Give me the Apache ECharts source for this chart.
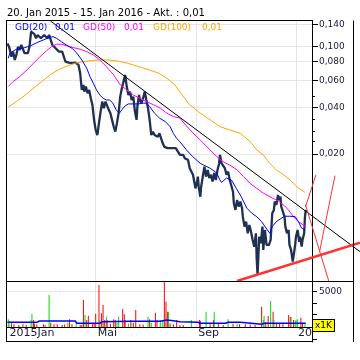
<!DOCTYPE html>
<html><head><meta charset="utf-8">
<script src="https://cdn.jsdelivr.net/npm/echarts@6/dist/echarts.min.js"></script>
<style>html,body{margin:0;padding:0;background:#fff}#c{width:360px;height:360px}</style>
</head><body><div id="c"></div>
<script>
// x values: day number counted from 2015-01-01 (2016-01-01 = 365)
const titleText = '20. Jan 2015 - 15. Jan 2016 - Akt. : 0,01';
const legendItems = ['GD(20)', 'GD(50)', 'GD(100)'];
const legendValues = ['0,01', '0,01', '0,01'];

const priceDays = [
  12,14,17,19,21,23,25,27,29,31,
  33,35,37,39,41,43,45,47,49,51,
  53,55,57,59,61,63,65,67,69,71,
  73,75,77,79,81,83,85,87,91,95,
  99,101,103,105,106,108,110,112,114,116,
  118,120,122,124,126,128,130,132,134,136,
  138,140,142,144,146,148,150,152,154,156,
  158,160,162,164,166,168,170,171,173,174,
  176,178,180,182,184,186,188,190,192,194,
  196,198,200,202,204,206,208,210,212,214,
  218,223,225,227,229,231,233,235,237,239,
  241,242,244,245,246,248,249,251,253,255,
  257,259,261,263,265,267,269,271,272,274,
  276,278,280,282,284,286,288,289,291,293,
  295,297,299,300,302,304,306,308,310,312,
  314,316,317,318,319,320,322,324,325,327,
  329,330,332,334,335,336,338,339,341,343,
  344,346,347,349,351,352,354,356,357,359,
  361,362,364,365,367,369,370,372,373,375,376,377];
const priceVals = [
  0.105,0.100,0.0861,0.0928,0.0819,0.0883,0.100,0.0952,0.1026,0.100,
  0.0906,0.0928,0.0906,0.100,0.1253,0.1223,0.1208,0.1135,0.1192,0.1192,
  0.1135,0.1151,0.1192,0.1174,0.1135,0.1192,0.1106,0.1026,0.1042,0.0977,
  0.100,0.0928,0.0906,0.0928,0.0861,0.0799,0.0780,0.0787,0.0780,0.0787,
  0.0760,0.0671,0.0522,0.0563,0.0509,0.0549,0.0497,0.0522,0.0461,0.0417,
  0.0333,0.0286,0.0265,0.0317,0.0377,0.0438,0.0397,0.0438,0.0428,0.0387,
  0.0368,0.0333,0.0301,0.0279,0.0317,0.0368,0.0472,0.0536,0.0522,0.0654,
  0.0549,0.0484,0.0509,0.0449,0.0472,0.0377,0.0333,0.0407,0.0484,0.0449,
  0.0428,0.0461,0.0509,0.0449,0.0397,0.0333,0.0265,0.0279,0.0265,0.0272,
  0.0258,0.0272,0.0265,0.0234,0.0222,0.0228,0.0218,0.0222,0.0218,0.0222,
  0.0218,0.0197,0.0192,0.0197,0.0187,0.0192,0.0182,0.0161,0.0157,0.0146,
  0.0128,0.0119,0.0132,0.0142,0.0122,0.0105,0.0122,0.0142,0.0165,0.0142,
  0.0157,0.0139,0.0146,0.0132,0.0150,0.0135,0.0157,0.0173,0.0197,0.0173,
  0.0177,0.0161,0.0146,0.0153,0.0135,0.0132,0.0113,0.00952,0.00861,0.0100,
  0.00905,0.00975,0.00883,0.00778,0.00670,0.00722,0.00606,0.00687,0.00621,0.00548,
  0.00496,0.00606,0.00406,0.00324,0.00427,0.00576,0.00522,0.00670,0.00472,0.00637,
  0.00509,0.00496,0.00509,0.00548,0.00670,0.00819,0.00861,0.00975,0.00928,0.0108,
  0.0100,0.0105,0.00905,0.00840,0.00778,0.00670,0.00606,0.00637,0.00509,0.00472,
  0.00396,0.00427,0.00509,0.00576,0.00637,0.00534,0.00576,0.00496,0.00548,0.00606,0.00778,0.00861];

const ma20Days = [13,15,23,31,40,48,56,64,68,72,78,84,91,97,103,109,113,117,121,125,129,133,137,141,145,149,152,156,160,166,172,178,182,186,192,198,205,211,215,219,223,231,239,248,252,260,268,272,274,280,286,292,298,305,311,317,323,330,333,336,341,347,351,357,364,368,372,376];
const ma20Vals = [0.0840,0.0906,0.0962,0.0977,0.1011,0.1062,0.1106,0.1151,0.1161,0.1135,0.1078,0.1026,0.0977,0.0906,0.0819,0.0723,0.0638,0.0578,0.0522,0.0484,0.0461,0.0449,0.0449,0.0428,0.0387,0.0368,0.0387,0.0411,0.0423,0.0423,0.0423,0.0428,0.0428,0.0407,0.0368,0.0342,0.0325,0.0301,0.0272,0.0252,0.0240,0.0212,0.0191,0.0173,0.0169,0.0161,0.0150,0.0135,0.0130,0.0139,0.0135,0.0119,0.0105,0.00883,0.00819,0.00778,0.00722,0.00637,0.00606,0.00670,0.00722,0.00759,0.00783,0.00783,0.00778,0.00722,0.00654,0.00637];

const ma50Days = [13,19,27,36,44,52,60,66,72,78,85,93,101,109,117,125,133,142,150,158,166,174,182,191,199,207,215,223,231,239,248,254,260,268,276,284,293,301,309,317,325,333,339,345,354,362,368,374,377];
const ma50Vals = [0.0549,0.0592,0.0638,0.0705,0.0780,0.0861,0.0942,0.100,0.1037,0.1037,0.1011,0.0985,0.0962,0.0928,0.0883,0.0819,0.0741,0.0654,0.0563,0.0522,0.0484,0.0461,0.0438,0.0417,0.0397,0.0368,0.0350,0.0342,0.0304,0.0273,0.0246,0.0228,0.0212,0.0192,0.0177,0.0169,0.0157,0.0142,0.0128,0.0119,0.0111,0.0105,0.0101,0.00975,0.00883,0.00778,0.00722,0.00687,0.00670];

const ma100Days = [13,23,34,44,54,64,74,85,95,105,115,125,135,146,156,166,176,186,197,207,217,223,235,248,260,272,284,297,309,317,325,333,341,350,358,366,376];
const ma100Vals = [0.0403,0.0438,0.0484,0.0536,0.0592,0.0654,0.0705,0.0749,0.0780,0.0799,0.0811,0.0819,0.0819,0.0807,0.0787,0.0760,0.0730,0.0705,0.0671,0.0623,0.0563,0.0506,0.0417,0.0368,0.0333,0.0301,0.0286,0.0272,0.0240,0.0212,0.0197,0.0173,0.0157,0.0146,0.0135,0.0122,0.0112];

// trend lines (start / end points)
const resistDays = [64.7, 443.3];   const resistVals = [0.147, 0.0046];
const supportDays = [292.8, 443.3]; const supportVals = [0.00296, 0.00526];
const fan1Days = [376.6, 389.4];    const fan1Vals = [0.0090, 0.0146];
const fan2Days = [376.6, 405.1];    const fan2Vals = [0.0093, 0.00296];
const fan3Days = [393.7, 412.7];    const fan3Vals = [0.00456, 0.0144];

// volume
const volDays = [
  13,14,17,20,26,31,35,41,42,44,45,48,56,58,63,65,69,73,79,82,
  86,88,91,96,101,103,105,107,109,111,116,118,120,124,125,127,129,131,133,134,
  138,142,144,146,148,153,155,156,160,163,166,169,174,178,184,186,188,193,195,199,
  202,204,206,208,209,211,215,219,223,227,237,247,248,255,260,264,265,270,276,282,
  288,293,296,303,309,315,323,325,326,328,331,334,337,338,341,345,349,356,358,359,
  362,364,365,367,371,373,376];
const volVals = [
  1090,890,520,380,300,380,300,990,1880,990,500,380,400,300,4530,610,380,380,300,350,
  610,1090,380,470,300,300,3820,1700,990,1600,400,500,1880,5950,990,1930,3110,990,1460,990,
  450,1090,990,600,1460,2550,1800,990,500,990,600,2410,400,350,1460,1090,600,2030,990,990,
  990,6400,3580,2170,2170,500,400,990,300,300,990,990,850,2170,380,990,2170,500,300,1090,
  450,500,380,380,350,300,2870,990,1560,700,1560,3680,2170,990,600,500,380,1700,1460,1460,
  990,900,990,1090,1320,500,380];
const volUp = [
  1,1,0,0,0,0,0,1,1,0,0,0,0,0,1,0,0,0,0,0,
  1,0,0,1,0,0,0,1,0,0,0,0,0,0,1,0,0,0,1,0,
  0,0,0,1,1,0,0,0,1,0,0,0,0,0,1,0,1,0,0,1,
  1,0,0,0,1,0,0,0,0,0,1,0,0,1,0,0,1,0,0,1,
  0,1,0,0,0,0,0,1,1,0,0,1,0,1,0,0,0,0,0,1,
  0,1,1,1,0,0,1];
const volMaDays = [12,48,51,95,97,125,128,162,199,207,215,223,245,248,279,282,297,299,323,326,377];
const volMaVals = [665,665,850,850,524,524,750,800,800,990,900,750,665,524,524,665,665,400,400,524,524];

// axes
const xRange = [11.5, 384.6];
const xRangeWide = [11.5, 443.3];
const monthTickDays = [120, 243, 365];
const xLabelDays = [12, 120, 243, 365];
const xLabels = ['2015Jan', 'Mai', 'Sep', '20'];
const priceRange = [0.00296, 0.147];
const priceTicks = [0.14, 0.10, 0.08, 0.06, 0.04, 0.02];
const priceMinorTicks = [0.0477, 0.0336, 0.0279, 0.0240];
const volRange = [0, 6514];
const volAxisRange = [-2124, 6514];
const volTicks = [-1742, 0, 1798, 3356, 5000];
const volLabelTicks = [5000];

const L = Math.log10;
const pairs = (xs, ys) => xs.map((x, i) => [x, L(ys[i])]);
const FONT = 'DejaVu Sans';
const TXT = '#1a1a3a';
const GRIDC = '#e6e6e6';

const chart = echarts.init(document.getElementById('c'), null, {renderer: 'canvas'});

function lineSeries(name, xs, ys, color, width, extra) {
  return Object.assign({
    name, type: 'line', xAxisIndex: 0, yAxisIndex: 0, data: pairs(xs, ys),
    symbol: 'none', silent: true,
    lineStyle: {color, width}, itemStyle: {color}
  }, extra || {});
}

const legendX = [[15, 55], [83, 124], [153, 202]];
const legendColors = ['#0000ff', '#ff00ff', '#ffa500'];
const graphics = [];
graphics.push({type: 'text', x: 7, y: 13.5, style: {text: titleText, fill: '#000', fontFamily: FONT, fontSize: 10, verticalAlign: 'middle'}});
legendItems.forEach((t, i) => {
  graphics.push({type: 'text', x: legendX[i][0], y: 27.5, z: 100, style: {text: t, fill: legendColors[i], fontFamily: FONT, fontSize: 9, verticalAlign: 'middle'}});
  graphics.push({type: 'text', x: legendX[i][1], y: 27.5, z: 100, style: {text: legendValues[i], fill: legendColors[i], fontFamily: FONT, fontSize: 9, verticalAlign: 'middle'}});
});
const frame = [
  [6.5, 20.5, 6.5, 342], [6, 20.5, 313, 20.5], [6, 281.5, 354, 281.5],
  [6, 341.5, 313, 341.5], [353.5, 20.5, 353.5, 342]
];
frame.forEach(f => graphics.push({type: 'line', z: 90, shape: {x1: f[0], y1: f[1], x2: f[2], y2: f[3]}, style: {stroke: '#000', lineWidth: 1}}));
graphics.push({type: 'text', x: 313, y: 320, z: 100, style: {text: 'x1K', fill: '#000', fontFamily: FONT, fontSize: 9, backgroundColor: '#ffff00', borderColor: '#000', borderWidth: 1, padding: [1, 2, 1, 2]}});

const trend = (name, xs, ys, color, width) => lineSeries(name, xs, ys, color, width, {xAxisIndex: 4, yAxisIndex: 4, z: 4});

const option = {
  animation: false,
  backgroundColor: '#fff',
  grid: [
    {left: 7, top: 21, width: 305, height: 260},
    {left: 7, top: 281, width: 305, height: 46},
    {left: 7, top: 21, width: 305, height: 260},
    {left: 7, top: 281, width: 305, height: 61},
    {left: 7, top: 21, width: 353, height: 260}
  ],
  xAxis: [
    {gridIndex: 0, type: 'value', min: xRange[0], max: xRange[1],
      axisLine: {show: false}, axisTick: {show: false, customValues: monthTickDays},
      axisLabel: {show: false}, splitLine: {show: true, lineStyle: {color: GRIDC, width: 1}}},
    {gridIndex: 1, type: 'value', min: xRange[0], max: xRange[1],
      axisLine: {show: true, lineStyle: {color: '#000', width: 1}},
      axisTick: {show: false, customValues: monthTickDays},
      axisLabel: {show: true, customValues: xLabelDays, align: 'left', margin: 1, padding: [0, 0, 0, 2],
        fontFamily: FONT, fontSize: 11, color: TXT,
        formatter: v => { const i = xLabelDays.findIndex(d => Math.abs(d - v) < 0.01); return i >= 0 ? xLabels[i] : ''; }},
      splitLine: {show: true, lineStyle: {color: GRIDC, width: 1}}},
    {gridIndex: 2, type: 'value', min: xRange[0], max: xRange[1], show: false},
    {gridIndex: 3, type: 'value', min: xRange[0], max: xRange[1], show: false},
    {gridIndex: 4, type: 'value', min: xRangeWide[0], max: xRangeWide[1], show: false}
  ],
  yAxis: [
    {gridIndex: 0, type: 'value', position: 'right', min: L(priceRange[0]), max: L(priceRange[1]),
      axisLine: {show: true, lineStyle: {color: '#000', width: 1}},
      axisTick: {show: true, length: 6, customValues: priceTicks.map(L), lineStyle: {color: '#000'}},
      axisLabel: {show: true, customValues: priceTicks.map(L), margin: 7, fontFamily: FONT, fontSize: 9, color: TXT,
        formatter: v => Math.pow(10, v).toFixed(3).replace('.', ',')},
      splitLine: {show: true, lineStyle: {color: GRIDC, width: 1}}},
    {gridIndex: 1, type: 'value', position: 'right', min: volRange[0], max: volRange[1],
      axisLine: {show: false}, axisTick: {show: false, customValues: volLabelTicks},
      axisLabel: {show: false}, splitLine: {show: true, lineStyle: {color: GRIDC, width: 1}}},
    {gridIndex: 2, type: 'value', position: 'right', min: L(priceRange[0]), max: L(priceRange[1]),
      axisLine: {show: false},
      axisTick: {show: true, length: 3, customValues: priceMinorTicks.map(L), lineStyle: {color: '#000'}},
      axisLabel: {show: false}, splitLine: {show: false}},
    {gridIndex: 3, type: 'value', position: 'right', min: volAxisRange[0], max: volAxisRange[1],
      axisLine: {show: true, lineStyle: {color: '#000', width: 1}},
      axisTick: {show: true, length: 5, customValues: volTicks, lineStyle: {color: '#000'}},
      axisLabel: {show: true, customValues: volLabelTicks, margin: 7, fontFamily: FONT, fontSize: 9, color: TXT,
        formatter: v => String(Math.round(v))},
      splitLine: {show: false}},
    {gridIndex: 4, type: 'value', min: L(priceRange[0]), max: L(priceRange[1]), show: false}
  ],
  series: [
    lineSeries('Kurs', priceDays, priceVals, '#1f3050', 2.3, {z: 2}),
    lineSeries('GD(100)', ma100Days, ma100Vals, '#ffa500', 1, {z: 3}),
    lineSeries('GD(50)', ma50Days, ma50Vals, '#ff00ff', 1, {z: 3}),
    lineSeries('GD(20)', ma20Days, ma20Vals, '#0000ff', 1, {z: 3}),
    trend('Widerstand', resistDays, resistVals, '#000000', 1),
    trend('Unterstützung', supportDays, supportVals, '#ff3333', 2.5),
    trend('Fan1', fan1Days, fan1Vals, '#ff3333', 1),
    trend('Fan2', fan2Days, fan2Vals, '#ff3333', 1),
    trend('Fan3', fan3Days, fan3Vals, '#ff3333', 1),
    {name: 'Volumen', type: 'bar', xAxisIndex: 1, yAxisIndex: 1, barWidth: 1, silent: true,
      data: volDays.map((d, i) => ({value: [d, volVals[i]], itemStyle: {color: volUp[i] ? '#00dd00' : '#ff0000'}}))},
    {name: 'Volumen GD', type: 'line', xAxisIndex: 1, yAxisIndex: 1, symbol: 'none', silent: true,
      data: volMaDays.map((d, i) => [d, volMaVals[i]]), lineStyle: {color: '#0000ff', width: 1.5}, z: 3}
  ],
  graphic: graphics
};
chart.setOption(option);
</script>
</body></html>
